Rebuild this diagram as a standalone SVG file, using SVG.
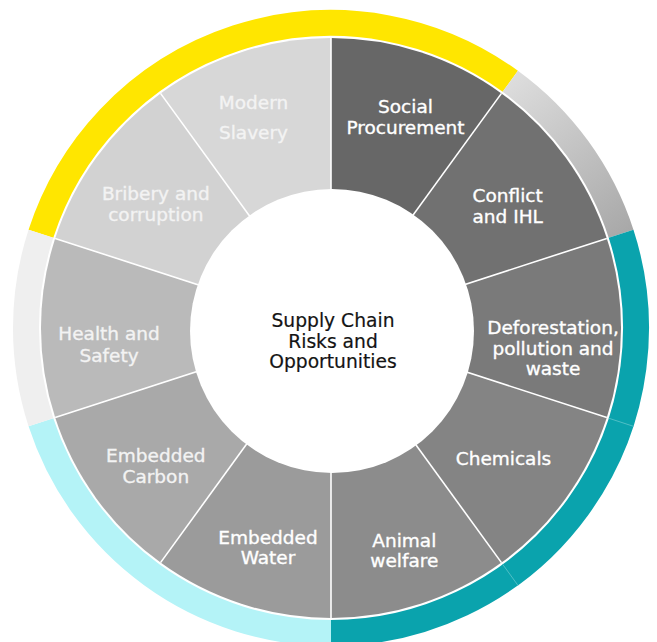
<svg xmlns="http://www.w3.org/2000/svg" width="657" height="642" viewBox="0 0 657 642">
<defs>
<linearGradient id="greyRing" gradientUnits="userSpaceOnUse" x1="505" y1="78" x2="625" y2="235">
<stop offset="0" stop-color="#dedede"/>
<stop offset="1" stop-color="#a8a8a8"/>
</linearGradient>
</defs>
<style>
.ring{fill:none;stroke-width:26;stroke-linecap:butt}
.sep{stroke:#ffffff;stroke-width:1.6}
.lbl{font-family:"DejaVu Sans",sans-serif;font-size:18.5px;fill:#ffffff;stroke:#ffffff;stroke-width:0.35;text-anchor:middle}
.lbl.light{fill:#f3f3f3;stroke:#f3f3f3}
.ctr{font-family:"DejaVu Sans",sans-serif;font-size:18.7px;fill:#141414;stroke:#141414;stroke-width:0.2;text-anchor:middle}
</style>
<rect width="657" height="642" fill="#ffffff"/>
<g id="outer-ring">
<path class="ring" stroke="#ffe600" d="M40.92 233.75 A305 305 0 0 1 510.28 81.25"/>
<path class="ring" stroke="url(#greyRing)" d="M510.28 81.25 A305 305 0 0 1 621.08 233.75"/>
<path class="ring" stroke="#0aa3ad" d="M621.08 233.75 A305 305 0 0 1 331 633"/>
<path class="ring" stroke="#b4f3f7" d="M331 633 A305 305 0 0 1 40.92 422.25"/>
<path class="ring" stroke="#efefef" d="M40.92 422.25 A305 305 0 0 1 40.92 233.75"/>
<line x1="608.7" y1="418.2" x2="633.4" y2="426.3" stroke="#4fbfc6" stroke-width="1"/>
<line x1="502.6" y1="564.2" x2="517.9" y2="585.3" stroke="#4fbfc6" stroke-width="1"/>
</g>
<g id="social-procurement">
<path fill="#676767" d="M331 328 L331 38 A290 290 0 0 1 501.46 93.39 Z"/>
<text class="lbl" x="405.5" y="113">Social</text>
<text class="lbl" x="405.5" y="134">Procurement</text>
</g>
<g id="conflict-ihl">
<path fill="#717171" d="M331 328 L501.46 93.39 A290 290 0 0 1 606.82 238.39 Z"/>
<text class="lbl" x="507.7" y="202">Conflict</text>
<text class="lbl" x="507.7" y="223">and IHL</text>
</g>
<g id="deforestation">
<path fill="#7a7a7a" d="M331 328 L606.82 238.39 A290 290 0 0 1 606.82 417.61 Z"/>
<text class="lbl" x="553" y="334">Deforestation,</text>
<text class="lbl" x="553" y="355">pollution and</text>
<text class="lbl" x="553" y="375">waste</text>
</g>
<g id="chemicals">
<path fill="#848484" d="M331 328 L606.82 417.61 A290 290 0 0 1 501.46 562.61 Z"/>
<text class="lbl" x="503.5" y="465">Chemicals</text>
</g>
<g id="animal-welfare">
<path fill="#8c8c8c" d="M331 328 L501.46 562.61 A290 290 0 0 1 331 618 Z"/>
<text class="lbl" x="404.3" y="547">Animal</text>
<text class="lbl" x="404.3" y="567">welfare</text>
</g>
<g id="embedded-water">
<path fill="#9b9b9b" d="M331 328 L331 618 A290 290 0 0 1 160.54 562.61 Z"/>
<text class="lbl" x="268" y="544">Embedded</text>
<text class="lbl" x="268" y="564">Water</text>
</g>
<g id="embedded-carbon">
<path fill="#a9a9a9" d="M331 328 L160.54 562.61 A290 290 0 0 1 55.18 417.61 Z"/>
<text class="lbl light" x="155.8" y="462">Embedded</text>
<text class="lbl light" x="155.8" y="483">Carbon</text>
</g>
<g id="health-safety">
<path fill="#bababa" d="M331 328 L55.18 417.61 A290 290 0 0 1 55.18 238.39 Z"/>
<text class="lbl light" x="109" y="340">Health and</text>
<text class="lbl light" x="109" y="362">Safety</text>
</g>
<g id="bribery-corruption">
<path fill="#d2d2d2" d="M331 328 L55.18 238.39 A290 290 0 0 1 160.54 93.39 Z"/>
<text class="lbl light" x="155.8" y="200">Bribery and</text>
<text class="lbl light" x="155.8" y="221">corruption</text>
</g>
<g id="modern-slavery">
<path fill="#d7d7d7" d="M331 328 L160.54 93.39 A290 290 0 0 1 331 38 Z"/>
<text class="lbl light" x="253.5" y="109">Modern</text>
<text class="lbl light" x="253.5" y="139">Slavery</text>
</g>
<g id="separators">
<line class="sep" x1="331" y1="328" x2="331" y2="38"/>
<line class="sep" x1="331" y1="328" x2="501.46" y2="93.39"/>
<line class="sep" x1="331" y1="328" x2="606.82" y2="238.39"/>
<line class="sep" x1="331" y1="328" x2="606.82" y2="417.61"/>
<line class="sep" x1="331" y1="328" x2="501.46" y2="562.61"/>
<line class="sep" x1="331" y1="328" x2="331" y2="618"/>
<line class="sep" x1="331" y1="328" x2="160.54" y2="562.61"/>
<line class="sep" x1="331" y1="328" x2="55.18" y2="417.61"/>
<line class="sep" x1="331" y1="328" x2="55.18" y2="238.39"/>
<line class="sep" x1="331" y1="328" x2="160.54" y2="93.39"/>
</g>
<g id="center">
<circle cx="332" cy="331" r="142" fill="#ffffff"/>
<text class="ctr" x="333" y="327">Supply Chain</text>
<text class="ctr" x="333" y="348">Risks and</text>
<text class="ctr" x="333" y="368">Opportunities</text>
</g>
</svg>
